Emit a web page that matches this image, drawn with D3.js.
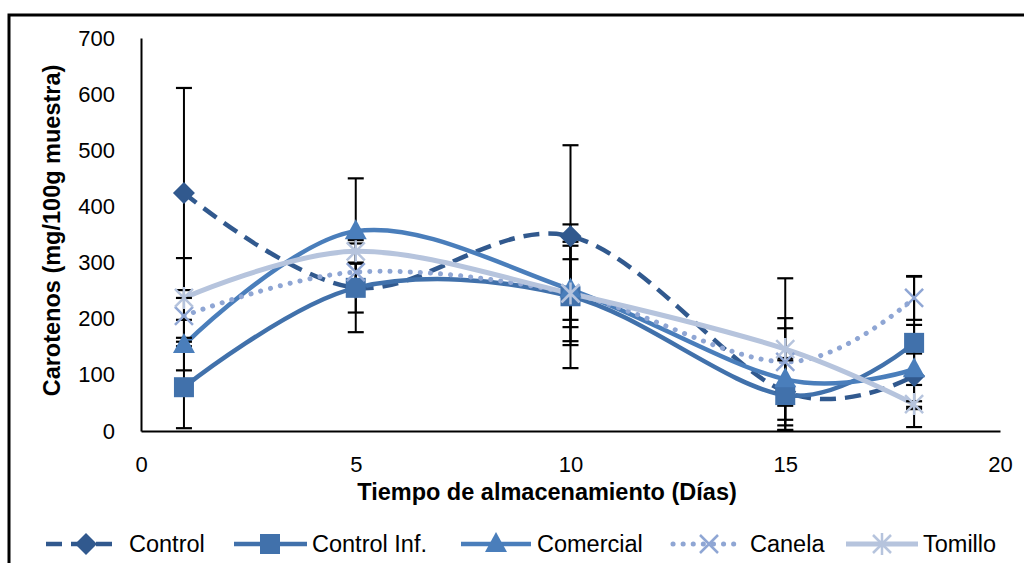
<!DOCTYPE html>
<html>
<head>
<meta charset="utf-8">
<script src="https://cdn.jsdelivr.net/npm/d3@7"></script>
<style>
  html, body { margin: 0; padding: 0; background: #fff; }
  svg { display: block; }
  text { font-family: "Liberation Sans", Arial, sans-serif; fill: #000; }
</style>
</head>
<body>
<svg id="chart" width="1024" height="563"></svg>
<script>
// Storage days
const days = [1, 5, 10, 15, 18];

// Mean carotenoid content per treatment (mg/100g sample)
const control    = [424, 255, 347, 70, 98];
const controlInf = [78, 255, 240, 64, 157];
const comercial  = [153, 356, 252, 92, 110];
const canela     = [205, 283, 245, 123, 237];
const tomillo    = [237, 320, 245, 146, 48];

// Standard deviations
const controlErr    = [187, 44, 162, 60, 91];
const controlInfErr = [73, 79, 128, 62, 118];
const comercialErr  = [45, 94, 54, 91, 28];
const canelaErr     = [46, 15, 85, 78, 39];
const tomilloErr    = [71, 20, 92, 126, 5];

const seriesNames = ["Control", "Control Inf.", "Comercial", "Canela", "Tomillo"];
const yTicks = [0, 100, 200, 300, 400, 500, 600, 700];
const xTicks = [0, 5, 10, 15, 20];

const styles = [
  { color: "#31598e", width: 4.5, dash: "16,9", cap: "butt", marker: "diamond" },
  { color: "#4171ab", width: 4.5, dash: null, cap: "butt", marker: "square" },
  { color: "#4a7ebb", width: 4.5, dash: null, cap: "butt", marker: "triangle" },
  { color: "#8fa6d4", width: 5, dash: "0.1,10", cap: "round", marker: "x" },
  { color: "#b6c4dd", width: 5, dash: null, cap: "butt", marker: "star" }
];

const values = [control, controlInf, comercial, canela, tomillo];
const errors = [controlErr, controlInfErr, comercialErr, canelaErr, tomilloErr];
const series = seriesNames.map((name, i) => ({
  name, style: styles[i],
  points: days.map((d, j) => ({ x: d, y: values[i][j], e: errors[i][j] }))
}));

const svg = d3.select("#chart");

// Outer frame
svg.append("rect")
  .attr("x", 9).attr("y", 15).attr("width", 1040).attr("height", 600)
  .attr("fill", "none").attr("stroke", "#000").attr("stroke-width", 3);

const plot = { left: 141, right: 1000, top: 38, bottom: 431 };
const x = d3.scaleLinear().domain([0, 20]).range([plot.left, plot.right]);
const y = d3.scaleLinear().domain([0, 700]).range([plot.bottom, plot.top]);

// Axes
const yAxis = d3.axisLeft(y).tickValues(yTicks).tickSize(0).tickPadding(26);
const xAxis = d3.axisBottom(x).tickValues(xTicks).tickSize(0).tickPadding(25);

const gy = svg.append("g").attr("transform", `translate(${plot.left},0)`).call(yAxis);
const gx = svg.append("g").attr("transform", `translate(0,${plot.bottom})`).call(xAxis);
[gx, gy].forEach(g => {
  g.select(".domain").attr("stroke", "#000").attr("stroke-width", 2);
  g.selectAll("text").attr("font-size", 22).attr("font-family", "Liberation Sans, Arial, sans-serif");
});

// Axis titles
svg.append("text")
  .attr("x", 547).attr("y", 500)
  .attr("text-anchor", "middle").attr("font-weight", "bold").attr("font-size", 23.5)
  .text("Tiempo de almacenamiento (Días)");
svg.append("text")
  .attr("transform", `translate(60,${(plot.top + plot.bottom) / 2 - 4}) rotate(-90)`)
  .attr("text-anchor", "middle").attr("font-weight", "bold").attr("font-size", 23.5)
  .text("Carotenos (mg/100g muestra)");

// Smoothed lines
const line = d3.line().x(d => x(d.x)).y(d => y(d.y)).curve(d3.curveCardinal.tension(0));
svg.append("clipPath").attr("id", "plotclip").append("rect")
  .attr("x", plot.left).attr("y", plot.top - 30)
  .attr("width", plot.right - plot.left + 20).attr("height", plot.bottom - plot.top + 30);

const linesG = svg.append("g");
series.forEach(s => {
  linesG.append("path")
    .datum(s.points)
    .attr("d", line)
    .attr("fill", "none")
    .attr("stroke", s.style.color)
    .attr("stroke-width", s.style.width)
    .attr("stroke-dasharray", s.style.dash)
    .attr("stroke-linecap", s.style.cap);
});

// Error bars
const errG = svg.append("g").attr("clip-path", "url(#plotclip)");
series.forEach(s => {
  s.points.forEach(p => {
    const hi = y(p.y + p.e), lo = y(p.y - p.e), cx = x(p.x);
    errG.append("line").attr("x1", cx).attr("x2", cx).attr("y1", hi).attr("y2", lo)
      .attr("stroke", "#000").attr("stroke-width", 2);
    [hi, lo].forEach(yy => errG.append("line")
      .attr("x1", cx - 8).attr("x2", cx + 8).attr("y1", yy).attr("y2", yy)
      .attr("stroke", "#000").attr("stroke-width", 2.2));
  });
});

// Marker drawing
function drawMarker(g, type, color, cx, cy) {
  if (type === "diamond") {
    g.append("path").attr("d", `M${cx},${cy - 11}L${cx + 11},${cy}L${cx},${cy + 11}L${cx - 11},${cy}Z`)
      .attr("fill", color);
  } else if (type === "square") {
    g.append("rect").attr("x", cx - 10).attr("y", cy - 10).attr("width", 20).attr("height", 20)
      .attr("fill", color);
  } else if (type === "triangle") {
    g.append("path").attr("d", `M${cx},${cy - 12}L${cx + 11},${cy + 8}L${cx - 11},${cy + 8}Z`)
      .attr("fill", color);
  } else if (type === "x") {
    g.append("path").attr("d", `M${cx - 9},${cy - 9}L${cx + 9},${cy + 9}M${cx - 9},${cy + 9}L${cx + 9},${cy - 9}`)
      .attr("stroke", color).attr("stroke-width", 2.5).attr("fill", "none");
  } else if (type === "star") {
    g.append("path").attr("d", `M${cx - 9},${cy - 9}L${cx + 9},${cy + 9}M${cx - 9},${cy + 9}L${cx + 9},${cy - 9}M${cx},${cy - 11}L${cx},${cy + 11}`)
      .attr("stroke", color).attr("stroke-width", 2.5).attr("fill", "none");
  }
}

const markG = svg.append("g");
series.forEach(s => {
  s.points.forEach(p => drawMarker(markG, s.style.marker, s.style.color, x(p.x), y(p.y)));
});

// Legend
const legendY = 544;
const legendItems = [
  { x1: 46, x2: 120, mx: 86, tx: 129 },
  { x1: 234, x2: 307, mx: 270, tx: 312 },
  { x1: 461, x2: 531, mx: 496, tx: 537 },
  { x1: 673, x2: 737, mx: 709, tx: 750 },
  { x1: 846, x2: 918, mx: 882, tx: 923 }
];
const legG = svg.append("g");
series.forEach((s, i) => {
  const it = legendItems[i];
  legG.append("line").attr("x1", it.x1).attr("x2", it.x2).attr("y1", legendY).attr("y2", legendY)
    .attr("stroke", s.style.color).attr("stroke-width", s.style.width)
    .attr("stroke-dasharray", s.style.dash).attr("stroke-linecap", s.style.cap);
  drawMarker(legG, s.style.marker, s.style.color, it.mx, legendY);
  legG.append("text").attr("x", it.tx).attr("y", legendY + 8).attr("font-size", 23.5).text(s.name);
});
</script>
</body>
</html>
